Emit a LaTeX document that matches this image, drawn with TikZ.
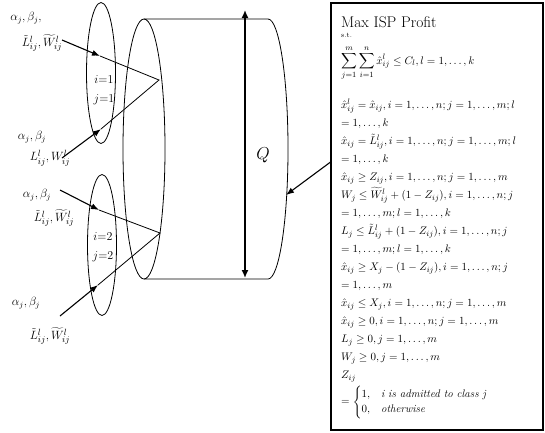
\documentclass[tikz,border=0pt]{standalone}
\usepackage{amsmath}
\usetikzlibrary{arrows.meta,shapes.geometric}

\begin{document}
\begin{tikzpicture}[x=1pt,y=-1pt,
    feed/.style={line width=1.1pt,-{Latex[length=8pt,width=6pt]}},
    lbl/.style={inner sep=0pt,font=\fontsize{12}{14}\selectfont},
    pair/.style={inner sep=0pt,font=\fontsize{13}{15}\selectfont},
    cls/.style={draw,ellipse,line width=0.8pt,inner sep=0pt,minimum width=29pt,minimum height=141pt},
    row/.style={anchor=base west,inner sep=0pt,font=\fontsize{11}{13}\selectfont}]
  \useasboundingbox (0,0) rectangle (545,432);

  \node[cls] (cls1) at (101,73) {};
  \node[cls] (cls2) at (102,245) {};
  \node[lbl,align=center] (id1) at (104,90) {$i{=}1$\\[5pt]$j{=}1$};
  \node[lbl,align=center] (id2) at (103,247) {$i{=}2$\\[5pt]$j{=}2$};

  \node[lbl] (ab1) at (26,18) {$\alpha_j,\beta_j,$};
  \node[pair] (lw1) at (42,43) {$\tilde{L}^l_{ij},\widetilde{W}^l_{ij}$};
  \node[lbl] (ab2) at (32,137) {$\alpha_j,\beta_j$};
  \node[pair] (lw2) at (50,158) {$L^l_{ij},W^l_{ij}$};
  \node[lbl] (ab3) at (37,195) {$\alpha_j,\beta_j$};
  \node[pair] (lw3) at (54,218) {$\tilde{L}^l_{ij},\widetilde{W}^l_{ij}$};
  \node[lbl] (ab4) at (26,303) {$\alpha_j,\beta_j$};
  \node[pair] (lw4) at (50,336) {$\tilde{L}^l_{ij},\widetilde{W}^l_{ij}$};

  \coordinate (s1) at (62,40);  \coordinate (t1) at (100,56);
  \coordinate (s2) at (62,158); \coordinate (t2) at (101,129);
  \coordinate (s3) at (60,190); \coordinate (t3) at (99,210);
  \coordinate (s4) at (60,316); \coordinate (t4) at (98,285);
  \coordinate (apex1) at (159,80);
  \coordinate (apex2) at (160,233);

  \draw[line width=0.8pt] (144,149) ellipse [x radius=21,y radius=130];
  \draw[line width=0.8pt] (144,19) -- (268,19) arc [start angle=-90,end angle=90,x radius=20,y radius=130] -- (144,279);

  \draw[feed] (s1) -- (t1);
  \draw[feed] (s2) -- (t2);
  \draw[feed] (s3) -- (t3);
  \draw[feed] (s4) -- (t4);
  \draw[line width=0.8pt] (t1) -- (apex1) -- (t2);
  \draw[line width=0.8pt] (t3) -- (apex2) -- (t4);

  \coordinate (qtop) at (245,10);
  \coordinate (qbot) at (245,278);
  \draw[line width=1.5pt,{Latex[length=8pt,width=7pt]}-{Latex[length=8pt,width=7pt]}] (qtop) -- (qbot);
  \node[font=\fontsize{16}{18}\selectfont] (q) at (263,155) {$Q$};

  \node[draw,line width=1.3pt,inner sep=0pt,minimum width=212pt,minimum height=427pt] (model) at (437,216.5) {};
  \coordinate (rim) at (286,195);
  \draw[feed] (model.153) -- (rim);

  \node[anchor=base west,inner sep=0pt,font=\fontsize{15.5}{18}\selectfont] (title) at (341,27) {Max ISP Profit};
  \node[anchor=base west,inner sep=0pt,font=\fontsize{7}{8}\selectfont] (st) at (341,37) {s.t.};
  \node[row] (sum) at (341,64) {$\displaystyle\sum_{j=1}^{m}\sum_{i=1}^{n}\hat{x}^l_{ij}\le C_l, l=1,\dots,k$};
  \foreach \eq [count=\k] in {
      {\hat{x}^l_{ij}=\hat{x}_{ij}, i=1,\dots,n; j=1,\dots,m; l},
      {=1,\dots,k},
      {\hat{x}_{ij}=\tilde{L}^l_{ij}, i=1,\dots,n; j=1,\dots,m; l},
      {=1,\dots,k},
      {\hat{x}_{ij}\ge Z_{ij}, i=1,\dots,n; j=1,\dots,m},
      {W_j\le\widetilde{W}^l_{ij}+(1-Z_{ij}), i=1,\dots,n; j},
      {=1,\dots,m; l=1,\dots,k},
      {L_j\le\tilde{L}^l_{ij}+(1-Z_{ij}), i=1,\dots,n; j},
      {=1,\dots,m; l=1,\dots,k},
      {\hat{x}_{ij}\ge X_j-(1-Z_{ij}), i=1,\dots,n; j},
      {=1,\dots,m},
      {\hat{x}_{ij}\le X_j, i=1,\dots,n; j=1,\dots,m},
      {\hat{x}_{ij}\ge 0, i=1,\dots,n; j=1,\dots,m},
      {L_j\ge 0, j=1,\dots,m},
      {W_j\ge 0, j=1,\dots,m},
      {Z_{ij}}}
    \node[row] (r\k) at (341,90.5+18*\k) {$\eq$};
  \node[row,anchor=west] (adm) at (341,402) {$=\begin{cases}1, & \textit{i is admitted to class j}\\ 0, & \textit{otherwise}\end{cases}$};
\end{tikzpicture}
\end{document}
